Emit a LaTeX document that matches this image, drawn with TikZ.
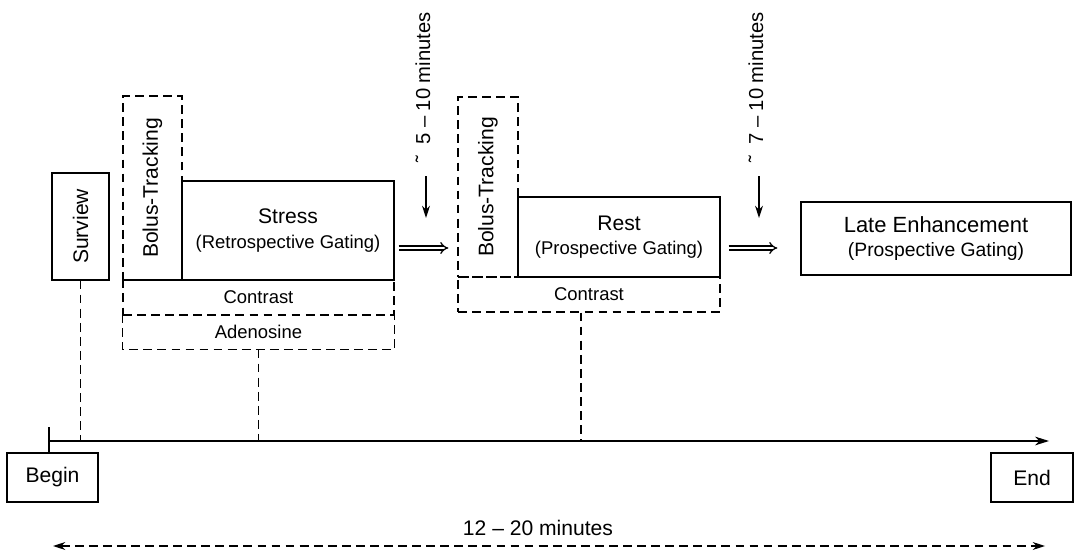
\documentclass[tikz,border=0pt]{standalone}
\usepackage{fontspec}
\setmainfont{Liberation Sans}
\usepackage{xcolor}
\usepackage{tikz}
\usetikzlibrary{arrows.meta, positioning, calc}

\newcommand{\subline}[1]{{\fontsize{10.5}{12}\selectfont #1}}

\begin{document}
\begin{tikzpicture}[line width=0.7pt, font=\fontsize{12}{14}\selectfont,
    box/.style={rectangle, draw, align=center, inner sep=1pt},
    dbox/.style={box, dash pattern=on 5pt off 3pt},
    dline/.style={dash pattern=on 5pt off 3pt},
    small/.style={font=\fontsize{10.5}{12}\selectfont},
    wait/.style={-{Stealth[length=7pt, width=4.5pt]}},
    move/.style={double, double distance=1.6pt, -{Implies}}]
        \useasboundingbox (0,0) rectangle (21.6,11.06);

        % dashed phases
        \node (bolusa) [dbox, minimum width=1.18cm, minimum height=3.68cm] at (3.05,7.30) {\rotatebox{90}{Bolus-Tracking}};
        \node (contrasta) [dbox, small, minimum width=5.42cm, minimum height=0.70cm] at (5.17,5.11) {Contrast};
        \node (adenosine) [box, draw=none, small, minimum width=5.42cm, minimum height=0.68cm] at (5.17,4.42) {Adenosine};
        \draw [dline] (adenosine.north west) -- (adenosine.south west) -- (adenosine.south east) -- (adenosine.north east);
        \node (bolusb) [dbox, minimum width=1.20cm, minimum height=3.60cm] at (9.76,7.32) {\rotatebox{90}{Bolus-Tracking}};
        \node (contrastb) [dbox, small, minimum width=5.24cm, minimum height=0.70cm] at (11.78,5.17) {Contrast};

        % scans
        \node (surview) [box, minimum width=1.14cm, minimum height=2.14cm] at (1.61,6.53) {\rotatebox{90}{Surview}};
        \node (stress) [box, minimum width=4.24cm, minimum height=1.98cm] at (5.76,6.45) {Stress \\ \subline{(Retrospective Gating)}};
        \node (rest) [box, minimum width=4.04cm, minimum height=1.60cm] at (12.38,6.32) {Rest \\ \subline{(Prospective Gating)}};
        \node (late) [box, minimum width=5.40cm, minimum height=1.46cm, font=\fontsize{12.5}{13.5}\selectfont] at (18.72,6.29) {Late Enhancement \\ {\fontsize{11}{12}\selectfont (Prospective Gating)}};

        % waiting times
        \node (waita) [rotate=90, font=\fontsize{11.5}{13}\selectfont] at (8.46,9.31) {˜\ \ 5 – 10 minutes};
        \node (waitb) [rotate=90, font=\fontsize{11.5}{13}\selectfont] at (15.12,9.31) {˜\ \ 7 – 10 minutes};
        \coordinate (wa) at (8.52,6.70);
        \coordinate (wb) at (15.18,6.70);
        \draw [wait, shorten <=4pt] (waita.west -| wa) -- (wa);
        \draw [wait, shorten <=4pt] (waitb.west -| wb) -- (wb);

        \coordinate (goa) at ([yshift=-0.35cm]stress.east);
        \coordinate (gob) at ([yshift=-0.22cm]rest.east);
        \draw [move, shorten <=0.08cm, shorten >=0.18cm] (goa) -- (goa -| bolusb.west);
        \draw [move, shorten <=0.16cm, shorten >=0.46cm] (gob) -- (gob -| late.west);

        % time line
        \node (begin) [box, minimum width=1.82cm, minimum height=0.98cm] at (1.05,1.51) {Begin};
        \node (end) [box, minimum width=1.64cm, minimum height=0.98cm] at (20.64,1.51) {End};
        \coordinate (axl) at (0.98,2.24);
        \coordinate (axr) at (20.98,2.24);
        \coordinate (tick) at (0.98,2.52);
        \coordinate (mark) at (11.62,2.24);
        \draw [-{Stealth[length=8pt, width=5pt]}] (axl) -- (axr);
        \draw (begin.north -| tick) -- (tick);
        \draw [dline] (surview.south) -- (surview.south |- axl);
        \draw [dline] (adenosine.south) -- (adenosine.south |- axl);
        \draw [dline] (mark |- contrastb.south) -- (mark);

        % total duration
        \coordinate (spanl) at (1.06,0.14);
        \coordinate (spanr) at (20.90,0.14);
        \draw [dline, {Stealth[length=7pt, width=4.5pt]}-{Stealth[length=7pt, width=4.5pt]}] (spanl) -- node (total) [above=2pt, xshift=-0.22cm] {12 – 20 minutes} (spanr);
    \end{tikzpicture}
\end{document}
